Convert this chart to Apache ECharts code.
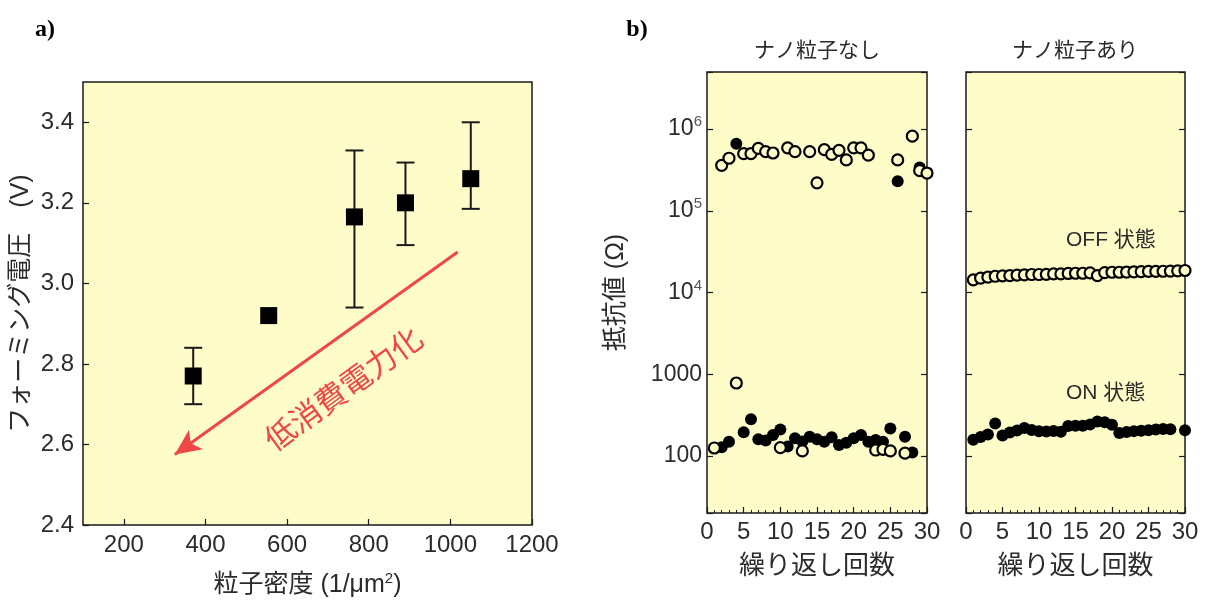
<!DOCTYPE html>
<html>
<head>
<meta charset="utf-8">
<script src="https://cdn.jsdelivr.net/npm/echarts@6/dist/echarts.min.js"></script>
<style>
  html, body { margin: 0; padding: 0; background: #fff; }
  #chart { width: 1211px; height: 603px; }
</style>
</head>
<body>
<div id="chart"></div>
<script>
// ==================== データ ====================

// a) 粒子密度 vs フォーミング電圧
const density = [370, 555, 765, 890, 1050];
const formingV = [2.77, 2.92, 3.165, 3.20, 3.26];
const errLow = [2.70, 2.92, 2.94, 3.095, 3.185];
const errHigh = [2.84, 2.92, 3.33, 3.30, 3.40];
const densityTicks = [200, 400, 600, 800, 1000, 1200];
const voltTicks = [2.4, 2.6, 2.8, 3.0, 3.2, 3.4];

// 矢印（データ座標）
const arrowFrom = [1018, 3.078];
const arrowTo = [325, 2.575];

// b) ナノ粒子なし
const noneOffCycle = [1, 2, 3, 4, 5, 6, 7, 8, 9, 10, 11, 12, 13, 14, 15, 16, 17, 18, 19, 20, 21, 22, 23, 24, 25, 26, 27, 28, 29, 30];
const noneOffR = [125, 3.6e5, 4.4e5, 780, 5.0e5, 5.0e5, 5.8e5, 5.3e5, 5.1e5, 126, 5.9e5, 5.3e5, 115, 5.3e5, 2.2e5, 5.6e5, 4.9e5, 5.5e5, 4.2e5, 5.9e5, 5.9e5, 4.8e5, 118, 120, 115, 4.2e5, 108, 8.2e5, 3.1e5, 2.9e5];
const noneOnCycle = [2, 3, 4, 5, 6, 7, 8, 9, 10, 11, 12, 13, 14, 15, 16, 17, 18, 19, 20, 21, 22, 23, 24, 25, 26, 27, 28, 29];
const noneOnR = [128, 149, 6.6e5, 195, 280, 160, 154, 180, 211, 130, 164, 150, 172, 160, 149, 169, 136, 145, 164, 180, 149, 157, 149, 217, 2.3e5, 172, 110, 3.4e5];

// b) ナノ粒子あり
const withOffCycle = [1, 2, 3, 4, 5, 6, 7, 8, 9, 10, 11, 12, 13, 14, 15, 16, 17, 18, 19, 20, 21, 22, 23, 24, 25, 26, 27, 28, 29, 30];
const withOffR = [14300, 15000, 15400, 15800, 16000, 16100, 16300, 16400, 16600, 16600, 16700, 16900, 16900, 17100, 17200, 17200, 17400, 16100, 17500, 17700, 17700, 17800, 17900, 18000, 18100, 18100, 18200, 18300, 18400, 18600];
const withOnCycle = [1, 2, 3, 4, 5, 6, 7, 8, 9, 10, 11, 12, 13, 14, 15, 16, 17, 18, 19, 20, 21, 22, 23, 24, 25, 26, 27, 28, 30];
const withOnR = [158, 170, 183, 250, 178, 194, 205, 219, 208, 200, 199, 202, 197, 232, 234, 234, 242, 263, 258, 240, 190, 196, 201, 203, 206, 210, 213, 212, 206];

// ==================== スタイル ====================

const BG = '#fefcc9';
const INK = '#1a1a1a';
const TXT = '#2b2b2b';
const RED = '#ef4646';
const FONT = "'Liberation Sans', 'Noto Sans CJK JP', sans-serif";

function pairs(xs, ys) {
  return xs.map((x, i) => [x, ys[i]]);
}

// 対数軸ラベル（10^n 表記）
function logLabel(v) {
  const lg = Math.log10(v);
  const e = Math.round(lg);
  if (Math.abs(lg - e) > 1e-6 || e < 2) return '';
  if (e <= 3) return String(Math.round(v));
  return '{b|10}{s|' + e + '}';
}

const gridBase = { show: true, backgroundColor: BG, borderColor: INK, borderWidth: 1.5 };
const tickIn = { show: true, inside: true, length: 6, lineStyle: { color: INK, width: 1.2 } };
const font = size => ({ color: TXT, fontSize: size, fontFamily: FONT });

function cycleAxis(gridIndex) {
  return {
    type: 'value', gridIndex, min: 0, max: 30, interval: 5,
    axisLine: { show: false },
    axisTick: tickIn,
    minorTick: { show: true, splitNumber: 5, length: 3, lineStyle: { color: INK } },
    axisLabel: Object.assign({ margin: 7 }, font(24)),
    splitLine: { show: false },
    name: '繰り返し回数', nameLocation: 'middle', nameGap: 41,
    nameTextStyle: font(26)
  };
}

function resAxis(gridIndex, position, withLabel) {
  return {
    type: 'log', gridIndex, position, min: 20, max: 5e6, logBase: 10,
    axisLine: { show: false },
    axisTick: tickIn,
    splitLine: { show: false },
    axisLabel: withLabel ? Object.assign({
      margin: 5,
      formatter: logLabel,
      rich: {
        b: font(23),
        s: Object.assign(font(15), { color: '#555', padding: [0, 0, 14, 0] })
      }
    }, font(23)) : { show: false },
    name: withLabel ? '抵抗値 (Ω)' : '',
    nameLocation: 'middle', nameRotate: 90, nameGap: 78,
    nameTextStyle: font(25)
  };
}

const option = {
  animation: false,
  backgroundColor: '#fff',
  textStyle: { fontFamily: FONT },
  grid: [
    Object.assign({ left: 83, top: 82, width: 449, height: 446 }, gridBase),
    Object.assign({ left: 707, top: 72, width: 220, height: 441 }, gridBase),
    Object.assign({ left: 966, top: 72, width: 219, height: 441 }, gridBase)
  ],
  xAxis: [
    {
      type: 'value', gridIndex: 0, min: 100, max: 1200,
      axisLine: { show: false },
      axisTick: Object.assign({ customValues: densityTicks }, tickIn),
      axisLabel: Object.assign({ customValues: densityTicks, margin: 8, formatter: v => String(v) }, font(24)),
      splitLine: { show: false },
      name: '粒子密度 (1/μm{s|2})', nameLocation: 'middle', nameGap: 46,
      nameTextStyle: Object.assign({
        rich: { s: Object.assign(font(15), { padding: [0, 0, 14, 0] }) }
      }, font(25))
    },
    cycleAxis(1),
    cycleAxis(2)
  ],
  yAxis: [
    {
      type: 'value', gridIndex: 0, min: 2.4, max: 3.5,
      axisLine: { show: false },
      axisTick: Object.assign({ customValues: voltTicks }, tickIn),
      axisLabel: Object.assign({ customValues: voltTicks, margin: 9, formatter: v => v.toFixed(1) }, font(24)),
      splitLine: { show: false },
      name: 'フォーミング電圧　(V)', nameLocation: 'middle', nameRotate: 90, nameGap: 49,
      nameTextStyle: font(25)
    },
    resAxis(1, 'left', true),
    resAxis(1, 'right', false),
    resAxis(2, 'left', false),
    resAxis(2, 'right', false)
  ],
  graphic: [
    { type: 'text', x: 45, y: 30, style: { text: 'a)', fill: '#000', fontSize: 24, fontWeight: 'bold', fontFamily: "'Liberation Serif', serif", align: 'center', verticalAlign: 'middle' } },
    { type: 'text', x: 637, y: 30, style: { text: 'b)', fill: '#000', fontSize: 24, fontWeight: 'bold', fontFamily: "'Liberation Serif', serif", align: 'center', verticalAlign: 'middle' } },
    { type: 'text', x: 817, y: 51, style: Object.assign({ text: 'ナノ粒子なし', align: 'center', verticalAlign: 'middle' }, font(21), { fill: TXT }) },
    { type: 'text', x: 1075, y: 51, style: Object.assign({ text: 'ナノ粒子あり', align: 'center', verticalAlign: 'middle' }, font(21), { fill: TXT }) },
    { type: 'text', x: 1066, y: 240, z: 10, style: Object.assign({ text: 'OFF 状態', align: 'left', verticalAlign: 'middle' }, font(21), { fill: TXT }) },
    { type: 'text', x: 1066, y: 393, z: 10, style: Object.assign({ text: 'ON 状態', align: 'left', verticalAlign: 'middle' }, font(21), { fill: TXT }) },
    {
      type: 'text', x: 345, y: 391, z: 10, rotation: 36 * Math.PI / 180,
      style: { text: '低消費電力化', fill: RED, fontSize: 31, fontFamily: FONT, align: 'center', verticalAlign: 'middle' }
    }
  ],
  series: [
    {
      type: 'custom', xAxisIndex: 0, yAxisIndex: 0, z: 2,
      data: density.map((d, i) => [d, errLow[i], errHigh[i]]),
      encode: { x: 0, y: [1, 2] },
      renderItem: (params, api) => {
        const x = api.value(0), lo = api.value(1), hi = api.value(2);
        if (hi - lo <= 0) return;
        const top = api.coord([x, hi]);
        const bot = api.coord([x, lo]);
        const w = 9;
        const st = { stroke: INK, lineWidth: 2 };
        return {
          type: 'group',
          children: [
            { type: 'line', shape: { x1: top[0], y1: top[1], x2: bot[0], y2: bot[1] }, style: st },
            { type: 'line', shape: { x1: top[0] - w, y1: top[1], x2: top[0] + w, y2: top[1] }, style: st },
            { type: 'line', shape: { x1: bot[0] - w, y1: bot[1], x2: bot[0] + w, y2: bot[1] }, style: st }
          ]
        };
      }
    },
    {
      type: 'scatter', xAxisIndex: 0, yAxisIndex: 0, z: 3,
      symbol: 'rect', symbolSize: 17,
      itemStyle: { color: '#000', opacity: 1 },
      data: pairs(density, formingV),
      markLine: {
        silent: true,
        symbol: ['none', 'arrow'],
        symbolSize: [18, 26],
        label: { show: false },
        lineStyle: { color: RED, width: 3, type: 'solid', opacity: 1 },
        data: [[{ coord: arrowFrom }, { coord: arrowTo }]]
      }
    },
    // ナノ粒子なし
    {
      type: 'scatter', xAxisIndex: 1, yAxisIndex: 1, z: 3,
      symbol: 'circle', symbolSize: 12,
      itemStyle: { color: '#000', opacity: 1 },
      data: pairs(noneOnCycle, noneOnR)
    },
    {
      type: 'scatter', xAxisIndex: 1, yAxisIndex: 1, z: 4,
      symbol: 'circle', symbolSize: 11,
      itemStyle: { color: BG, borderColor: '#000', borderWidth: 2.2, opacity: 1 },
      data: pairs(noneOffCycle, noneOffR)
    },
    // ナノ粒子あり
    {
      type: 'scatter', xAxisIndex: 2, yAxisIndex: 3, z: 3,
      symbol: 'circle', symbolSize: 12,
      itemStyle: { color: '#000', opacity: 1 },
      data: pairs(withOnCycle, withOnR)
    },
    {
      type: 'scatter', xAxisIndex: 2, yAxisIndex: 3, z: 4,
      symbol: 'circle', symbolSize: 11,
      itemStyle: { color: BG, borderColor: '#000', borderWidth: 2.2, opacity: 1 },
      data: pairs(withOffCycle, withOffR)
    }
  ]
};

const chart = echarts.init(document.getElementById('chart'), null, { renderer: 'canvas' });
chart.setOption(option);
</script>
</body>
</html>
